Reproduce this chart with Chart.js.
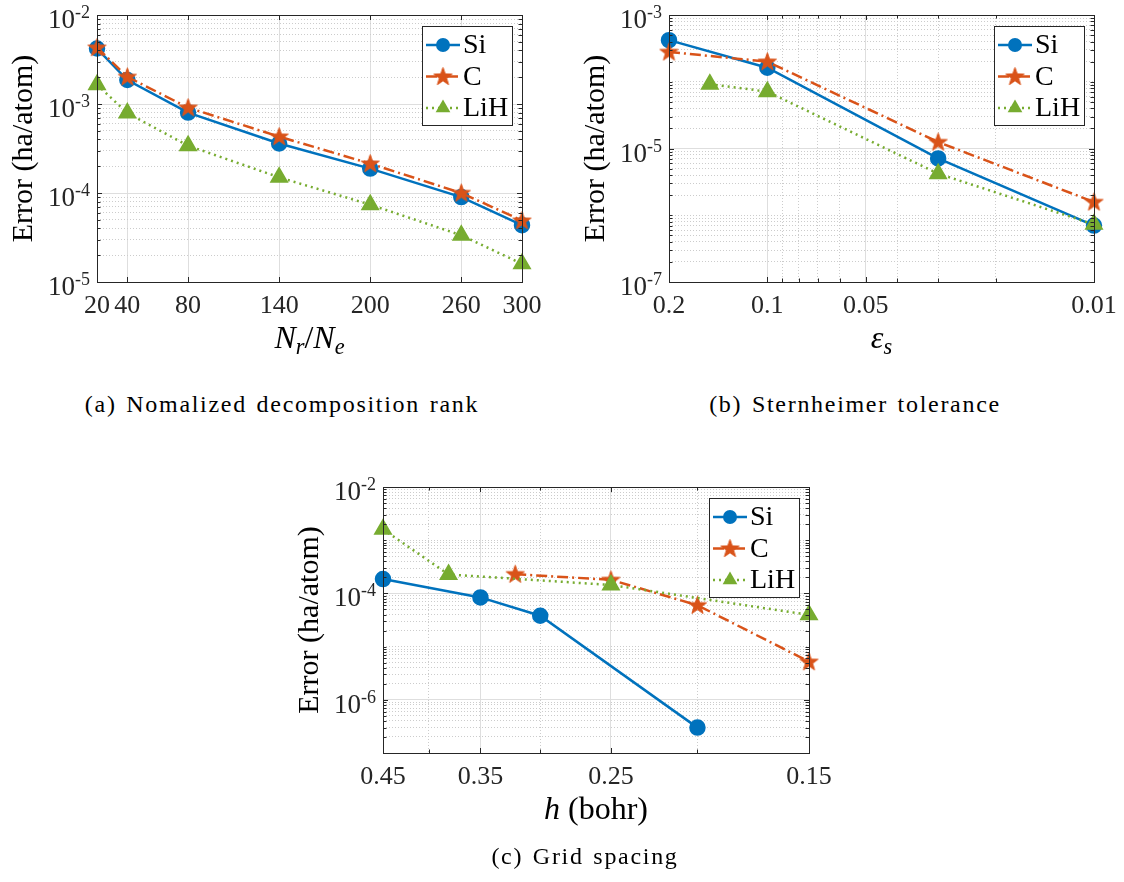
<!DOCTYPE html>
<html>
<head>
<meta charset="utf-8">
<script src="https://cdn.jsdelivr.net/npm/chart.js@4.4.0/dist/chart.umd.min.js"></script>
<style>
body { margin: 0; background: #fff; width: 1124px; height: 882px; position: relative; overflow: hidden; }
canvas { position: absolute; }
.legenda { position: absolute; font-family: "Liberation Serif", "Times New Roman", serif; font-size: 24px; color: #000;
  white-space: nowrap; line-height: 1; transform: translate(-50%, -50%); letter-spacing: 1.7px; word-spacing: 2px; }
</style>
</head>
<body>
<canvas id="chartA" width="560" height="380" style="left:0;top:0"></canvas>
<canvas id="chartB" width="564" height="380" style="left:560px;top:0"></canvas>
<canvas id="chartC" width="560" height="380" style="left:280px;top:470px"></canvas>
<div class="legenda" style="left:282px;top:404px">(a) Nomalized decomposition rank</div>
<div class="legenda" style="left:855px;top:404px">(b) Sternheimer tolerance</div>
<div class="legenda" style="left:585px;top:856px">(c) Grid spacing</div>
<script>
// (a) posto normalizado N_r/N_e
var rankX = [20, 40, 80, 140, 200, 260, 300];
var rankSi = [4.2e-3, 1.86e-3, 8.0e-4, 3.6e-4, 1.88e-4, 9.0e-5, 4.35e-5];
var rankC = [4.3e-3, 2.02e-3, 9.1e-4, 4.3e-4, 2.14e-4, 1.0e-4, 4.9e-5];
var rankLiH = [1.65e-3, 7.9e-4, 3.4e-4, 1.5e-4, 7.4e-5, 3.35e-5, 1.6e-5];
var rankXTicks = [20, 40, 80, 140, 200, 260, 300];
var rankYTicks = [1e-2, 1e-3, 1e-4, 1e-5];

// (b) tolerancia de Sternheimer
var tolSiX = [0.2, 0.1, 0.03, 0.01];
var tolSi = [4.2e-4, 1.62e-4, 7.1e-6, 7.0e-7];
var tolCX = [0.2, 0.1, 0.03, 0.01];
var tolC = [2.8e-4, 2.0e-4, 1.25e-5, 1.58e-6];
var tolLiHX = [0.15, 0.1, 0.03, 0.01];
var tolLiH = [9.2e-5, 7.1e-5, 4.2e-6, 7.3e-7];
var tolXTicks = [0.2, 0.1, 0.05, 0.01];
var tolYTicks = [1e-3, 1e-5, 1e-7];

// (c) espacamento da malha h
var gridSiX = [0.45, 0.35, 0.3, 0.2];
var gridSi = [1.86e-4, 8.4e-5, 3.8e-5, 3.0e-7];
var gridCX = [0.32, 0.25, 0.2, 0.15];
var gridC = [2.3e-4, 1.8e-4, 6.0e-5, 5.2e-6];
var gridLiHX = [0.45, 0.38, 0.25, 0.15];
var gridLiH = [1.6e-3, 2.27e-4, 1.44e-4, 3.95e-5];
var gridXTicks = [0.45, 0.35, 0.25, 0.15];
var gridYTicks = [1e-2, 1e-4, 1e-6];

var fam = '"Liberation Serif", "Times New Roman", serif';
var corEixo = '#262626';
var corSi = '#0072BD', corC = '#D95319', corLiH = '#77AC30';

function pontos(xs, ys) {
    return xs.map(function (x, i) { return { x: x, y: ys[i] }; });
}

function expoente(v) {
    return String(Math.round(Math.log10(v)));
}

// ticks menores de escala log (1..9 x 10^n) sem os principais
function menores(min, max, excluir) {
    var r = [];
    for (var e = Math.floor(Math.log10(min)); e <= Math.ceil(Math.log10(max)); e++) {
        for (var k = 1; k <= 9; k++) {
            var v = parseFloat((k * Math.pow(10, e)).toPrecision(6));
            var ehPrincipal = excluir.some(function (m) { return Math.abs(m - v) / v < 1e-6; });
            if (v >= min * 0.999 && v <= max * 1.001 && !ehPrincipal) r.push(v);
        }
    }
    return r;
}

function estrela(cor, raio) {
    var c = document.createElement('canvas');
    var s = Math.ceil(raio * 2 + 4);
    c.width = s; c.height = s;
    var g = c.getContext('2d');
    g.fillStyle = cor; g.strokeStyle = cor; g.lineWidth = 1;
    g.beginPath();
    for (var i = 0; i < 10; i++) {
        var ang = -Math.PI / 2 + i * Math.PI / 5;
        var rr = i % 2 == 0 ? raio : raio * 0.4;
        g.lineTo(s / 2 + rr * Math.cos(ang), s / 2 + 0.5 + rr * Math.sin(ang));
    }
    g.closePath(); g.fill(); g.stroke();
    return c;
}
var imgEstrela = estrela(corC, 9.5);

function series(si, c, lih) {
    return [
        { label: 'Si', data: si, borderColor: corSi, backgroundColor: corSi, borderWidth: 2.5, borderDash: [],
          pointStyle: 'circle', pointRadius: 7, pointBackgroundColor: corSi, pointBorderColor: corSi, order: 3 },
        { label: 'C', data: c, borderColor: corC, backgroundColor: corC, borderWidth: 2.5, borderDash: [11, 4, 2, 4],
          pointStyle: imgEstrela, pointRadius: 9, order: 2 },
        { label: 'LiH', data: lih, borderColor: corLiH, backgroundColor: corLiH, borderWidth: 2.5, borderDash: [2, 4],
          pointStyle: 'triangle', pointRadius: 8.5, pointBackgroundColor: corLiH, pointBorderColor: corLiH, order: 1 }
    ];
}

function marcador(ctx, d, x, y) {
    ctx.fillStyle = d.borderColor;
    if (d.pointStyle === 'circle') {
        ctx.beginPath(); ctx.arc(x, y, d.pointRadius, 0, 2 * Math.PI); ctx.fill();
    } else if (d.pointStyle === 'triangle') {
        var r = d.pointRadius;
        ctx.beginPath();
        ctx.moveTo(x, y - r);
        ctx.lineTo(x + r * Math.sin(2 * Math.PI / 3), y - r * Math.cos(2 * Math.PI / 3));
        ctx.lineTo(x + r * Math.sin(4 * Math.PI / 3), y - r * Math.cos(4 * Math.PI / 3));
        ctx.closePath(); ctx.fill();
    } else {
        ctx.drawImage(d.pointStyle, x - d.pointStyle.width / 2, y - d.pointStyle.height / 2);
    }
}

function textoComposto(ctx, partes, cx, base, tam) {
    var total = 0;
    partes.forEach(function (p) {
        ctx.font = (p.it ? 'italic ' : '') + (p.sub ? tam * 0.7 : tam) + 'px ' + fam;
        p.w = ctx.measureText(p.t).width;
        total += p.w;
    });
    var x = cx - total / 2;
    ctx.textAlign = 'left';
    ctx.textBaseline = 'alphabetic';
    partes.forEach(function (p) {
        ctx.font = (p.it ? 'italic ' : '') + (p.sub ? tam * 0.7 : tam) + 'px ' + fam;
        ctx.fillText(p.t, x, base + (p.sub ? tam * 0.2 : 0));
        x += p.w;
    });
}

var moldura = {
    id: 'moldura',
    afterDraw: function (chart) {
        var ctx = chart.ctx, a = chart.chartArea, o = chart.options.plugins.moldura;
        ctx.save();
        // tracinhos para dentro nos 4 lados
        ctx.strokeStyle = corEixo; ctx.lineWidth = 1;
        ['x', 'xm', 'y', 'ym'].forEach(function (id) {
            var s = chart.scales[id];
            var tam = (id.length == 1) ? 5 : 3.5;
            s.ticks.forEach(function (t) {
                var p = Math.round(s.getPixelForValue(t.value)) + 0.5;
                ctx.beginPath();
                if (id[0] == 'x') {
                    ctx.moveTo(p, a.bottom); ctx.lineTo(p, a.bottom - tam);
                    ctx.moveTo(p, a.top); ctx.lineTo(p, a.top + tam);
                } else {
                    ctx.moveTo(a.left, p); ctx.lineTo(a.left + tam, p);
                    ctx.moveTo(a.right, p); ctx.lineTo(a.right - tam, p);
                }
                ctx.stroke();
            });
        });
        ctx.strokeRect(a.left + 0.5, a.top + 0.5, a.right - a.left, a.bottom - a.top);

        // rotulos 10^n do eixo y, com expoente sobrescrito
        var sy = chart.scales.y;
        ctx.fillStyle = corEixo;
        ctx.textBaseline = 'alphabetic';
        sy.ticks.forEach(function (t) {
            var py = sy.getPixelForValue(t.value);
            var ex = expoente(t.value);
            ctx.font = '18px ' + fam;
            ctx.textAlign = 'right';
            ctx.fillText(ex, a.left - 7, py + 3);
            var we = ctx.measureText(ex).width;
            ctx.font = '27px ' + fam;
            ctx.fillText('10', a.left - 7 - we, py + 13);
        });

        // titulos dos eixos
        ctx.fillStyle = '#000';
        textoComposto(ctx, o.tituloX, (a.left + a.right) / 2, a.bottom + 66, 32);
        ctx.save();
        ctx.translate(a.left - 73, (a.top + a.bottom) / 2);
        ctx.rotate(-Math.PI / 2);
        ctx.font = '30px ' + fam;
        ctx.textAlign = 'center'; ctx.textBaseline = 'middle';
        ctx.fillText('Error (ha/atom)', 0, 0);
        ctx.restore();

        // legenda dentro da area
        var w = 90, h = 99;
        var x0 = a.right - 10 - w, y0 = a.top + 11;
        ctx.fillStyle = '#fff'; ctx.fillRect(x0, y0, w, h);
        ctx.strokeStyle = corEixo; ctx.lineWidth = 1; ctx.strokeRect(x0 + 0.5, y0 + 0.5, w, h);
        chart.data.datasets.forEach(function (d, i) {
            var yy = y0 + 19 + i * 31.5;
            ctx.strokeStyle = d.borderColor; ctx.lineWidth = d.borderWidth;
            ctx.setLineDash(d.borderDash);
            ctx.beginPath(); ctx.moveTo(x0 + 4, yy); ctx.lineTo(x0 + 38, yy); ctx.stroke();
            ctx.setLineDash([]);
            marcador(ctx, d, x0 + 21, yy);
            ctx.fillStyle = '#000';
            ctx.font = '28px ' + fam;
            ctx.textAlign = 'left'; ctx.textBaseline = 'middle';
            ctx.fillText(d.label, x0 + 41, yy + 1);
        });
        ctx.restore();
    }
};

function zerarPadding(s) {
    s.paddingLeft = 0; s.paddingRight = 0; s.paddingTop = 0; s.paddingBottom = 0;
}

function montarGrafico(id, g) {
    var xMenores = g.xTipo == 'logarithmic' ? menores(g.xMin, g.xMax, g.xTicks) : [];
    var yMenores = menores(g.yMin, g.yMax, g.yTicks);
    var config = {
        type: 'line',
        data: { datasets: g.datasets },
        options: {
            responsive: false,
            animation: false,
            clip: false,
            events: [],
            layout: { padding: { left: 0, top: g.topo, right: g.direita, bottom: 0 } },
            elements: { line: { tension: 0, fill: false } },
            plugins: {
                legend: { display: false },
                tooltip: { enabled: false },
                moldura: { tituloX: g.tituloX }
            },
            scales: {
                x: {
                    type: g.xTipo, min: g.xMin, max: g.xMax, reverse: g.xReverso,
                    afterBuildTicks: function (s) { s.ticks = g.xTicks.map(function (v) { return { value: v }; }); },
                    afterFit: function (s) { s.height = g.altX; zerarPadding(s); },
                    ticks: { autoSkip: false, maxRotation: 0, padding: 9, color: corEixo,
                        font: { family: fam, size: 26 },
                        callback: function (v) { return String(v); } },
                    grid: { color: '#dedede', lineWidth: 1, drawTicks: false },
                    border: { display: false }
                },
                xm: {
                    type: g.xTipo, min: g.xMin, max: g.xMax, reverse: g.xReverso, position: 'bottom',
                    afterBuildTicks: function (s) { s.ticks = xMenores.map(function (v) { return { value: v }; }); },
                    afterFit: function (s) { s.height = 0; zerarPadding(s); },
                    ticks: { display: false },
                    grid: { color: '#cccccc', lineWidth: 1, drawTicks: false },
                    border: { display: false, dash: [1, 2] }
                },
                y: {
                    type: 'logarithmic', min: g.yMin, max: g.yMax,
                    afterBuildTicks: function (s) { s.ticks = g.yTicks.map(function (v) { return { value: v }; }); },
                    afterFit: function (s) { s.width = g.largY; zerarPadding(s); },
                    ticks: { display: false },
                    grid: { color: '#dedede', lineWidth: 1, drawTicks: false },
                    border: { display: false }
                },
                ym: {
                    type: 'logarithmic', min: g.yMin, max: g.yMax, position: 'left',
                    afterBuildTicks: function (s) { s.ticks = yMenores.map(function (v) { return { value: v }; }); },
                    afterFit: function (s) { s.width = 0; zerarPadding(s); },
                    ticks: { display: false },
                    grid: { color: '#cccccc', lineWidth: 1, drawTicks: false },
                    border: { display: false, dash: [1, 2] }
                }
            }
        },
        plugins: [moldura]
    };
    return new Chart(document.getElementById(id), config);
}

montarGrafico('chartA', {
    datasets: series(pontos(rankX, rankSi), pontos(rankX, rankC), pontos(rankX, rankLiH)),
    xTipo: 'linear', xMin: 20, xMax: 300, xReverso: false, xTicks: rankXTicks,
    yMin: 1e-5, yMax: 1e-2, yTicks: rankYTicks,
    topo: 15, direita: 560 - 522, largY: 97, altX: 380 - 282,
    tituloX: [{ t: 'N', it: true }, { t: 'r', it: true, sub: true }, { t: '/' }, { t: 'N', it: true }, { t: 'e', it: true, sub: true }]
});

montarGrafico('chartB', {
    datasets: series(pontos(tolSiX, tolSi), pontos(tolCX, tolC), pontos(tolLiHX, tolLiH)),
    xTipo: 'logarithmic', xMin: 0.01, xMax: 0.2, xReverso: true, xTicks: tolXTicks,
    yMin: 1e-7, yMax: 1e-3, yTicks: tolYTicks,
    topo: 15, direita: 564 - 534, largY: 109, altX: 380 - 282,
    tituloX: [{ t: '\u03B5', it: true }, { t: 's', it: true, sub: true }]
});

montarGrafico('chartC', {
    datasets: series(pontos(gridSiX, gridSi), pontos(gridCX, gridC), pontos(gridLiHX, gridLiH)),
    xTipo: 'logarithmic', xMin: 0.15, xMax: 0.45, xReverso: true, xTicks: gridXTicks,
    yMin: 1e-7, yMax: 1e-2, yTicks: gridYTicks,
    topo: 17, direita: 560 - 529, largY: 103, altX: 380 - 283,
    tituloX: [{ t: 'h', it: true }, { t: ' (bohr)' }]
});
</script>
</body>
</html>
